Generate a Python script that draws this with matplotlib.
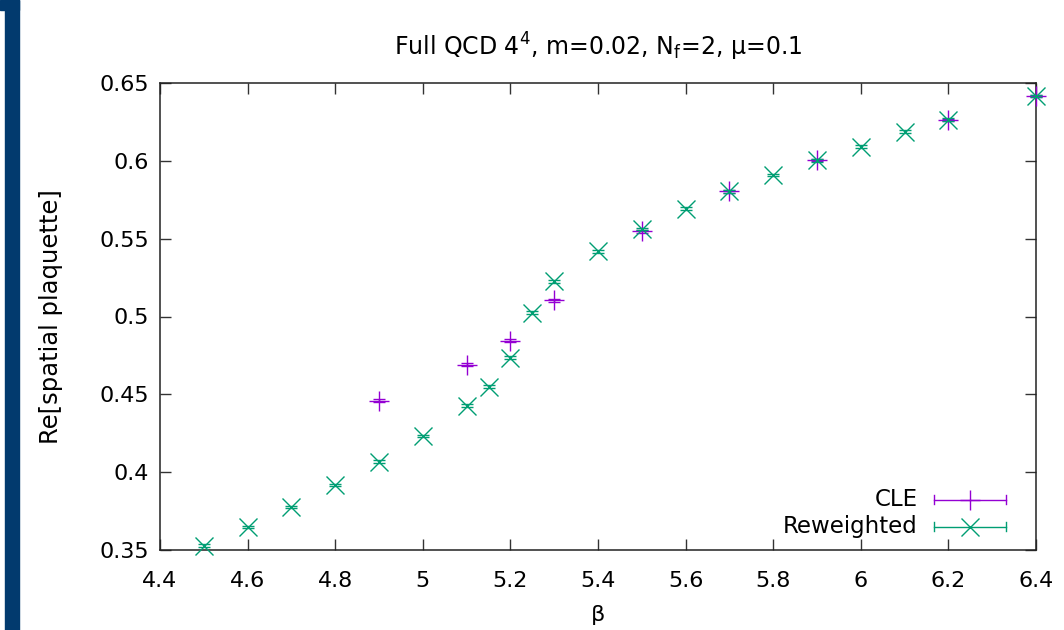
import matplotlib
matplotlib.use('Agg')
import matplotlib.pyplot as plt
from matplotlib.patches import Rectangle

# CLE data
beta_cle = [4.9, 5.1, 5.2, 5.3, 5.5, 5.7, 5.9, 6.2, 6.4]
plaq_cle = [0.4460, 0.4691, 0.4845, 0.5103, 0.5548, 0.5803, 0.6003, 0.6262, 0.6414]
err_cle = [0.0008, 0.0008, 0.0008, 0.0012, 0.0010, 0.0008, 0.0006, 0.0006, 0.0006]

# Reweighted data
beta_rw = [4.5, 4.6, 4.7, 4.8, 4.9, 5.0, 5.1, 5.15, 5.2, 5.25, 5.3, 5.4,
           5.5, 5.6, 5.7, 5.8, 5.9, 6.0, 6.1, 6.2, 6.4]
plaq_rw = [0.3528, 0.3649, 0.3777, 0.3919, 0.4068, 0.4233, 0.4427, 0.4549,
           0.4736, 0.5025, 0.5225, 0.5418, 0.5563, 0.5693, 0.5803, 0.5910,
           0.6003, 0.6092, 0.6187, 0.6265, 0.6415]
err_rw = [0.0008] * len(beta_rw)

xticks = [4.4, 4.6, 4.8, 5.0, 5.2, 5.4, 5.6, 5.8, 6.0, 6.2, 6.4]
xticklabels = ['4.4', '4.6', '4.8', '5', '5.2', '5.4', '5.6', '5.8', '6', '6.2', '6.4']
yticks = [0.35, 0.4, 0.45, 0.5, 0.55, 0.6, 0.65]
yticklabels = ['0.35', '0.4', '0.45', '0.5', '0.55', '0.6', '0.65']

PURPLE = '#9400d3'
GREEN = '#009e73'
FS = 16

fig = plt.figure(figsize=(10.64, 6.30), dpi=100)
ax = fig.add_axes([160 / 1064, 80 / 630, 876 / 1064, 467 / 630])

# navy strip at the left edge
fig.patches.append(Rectangle((5 / 1064, 0), 14 / 1064, 1, transform=fig.transFigure,
                             color='#023a6e', zorder=0))
fig.patches.append(Rectangle((0, 620 / 630), 19 / 1064, 10 / 630, transform=fig.transFigure,
                             color='#023a6e', zorder=0))

ax.errorbar(beta_cle, plaq_cle, yerr=err_cle, fmt='+', color=PURPLE, ms=14, mew=1.0,
            elinewidth=1.0, capsize=4.5, capthick=1.0, clip_on=False, zorder=3)
ax.errorbar(beta_rw, plaq_rw, yerr=err_rw, fmt='x', color=GREEN, ms=12.5, mew=1.0,
            elinewidth=1.0, capsize=4.5, capthick=1.0, clip_on=False, zorder=4)

ax.set_xlim(4.4, 6.4)
ax.set_ylim(0.35, 0.65)
ax.set_xticks(xticks)
ax.set_xticklabels(xticklabels)
ax.set_yticks(yticks)
ax.set_yticklabels(yticklabels)
ax.tick_params(direction='in', length=8, width=1, labelsize=FS, top=True, right=True,
               color='#333333')
ax.tick_params(axis='x', pad=15)
ax.tick_params(axis='y', pad=8)
for s in ax.spines.values():
    s.set_linewidth(1.1)
    s.set_color('#222222')

ax.set_xlabel('β', fontsize=FS, labelpad=10)
ax.set_ylabel('Re[spatial plaquette]', fontsize=17.5, labelpad=26)
ax.set_title(r'Full QCD 4$^4$, m=0.02, N$_\mathrm{f}$=2, μ=0.1', fontsize=17, pad=20)

# gnuplot-style key, bottom right
tr = ax.transAxes
for yk, label, col, mk, ms in [(0.108, 'CLE', PURPLE, '+', 14),
                               (0.050, 'Reweighted', GREEN, 'x', 12.5)]:
    ax.text(0.865, yk, label, transform=tr, ha='right', va='center', fontsize=16.5)
    ax.plot([0.884, 0.966], [yk, yk], transform=tr, color=col, lw=1.0, clip_on=False)
    for xe in (0.884, 0.966):
        ax.plot([xe, xe], [yk - 0.009, yk + 0.009], transform=tr, color=col, lw=1.0,
                clip_on=False)
    ax.plot([0.925], [yk], transform=tr, marker=mk, ms=ms, mew=1.0, color=col,
            clip_on=False)

fig.savefig('out.png', dpi=100)
